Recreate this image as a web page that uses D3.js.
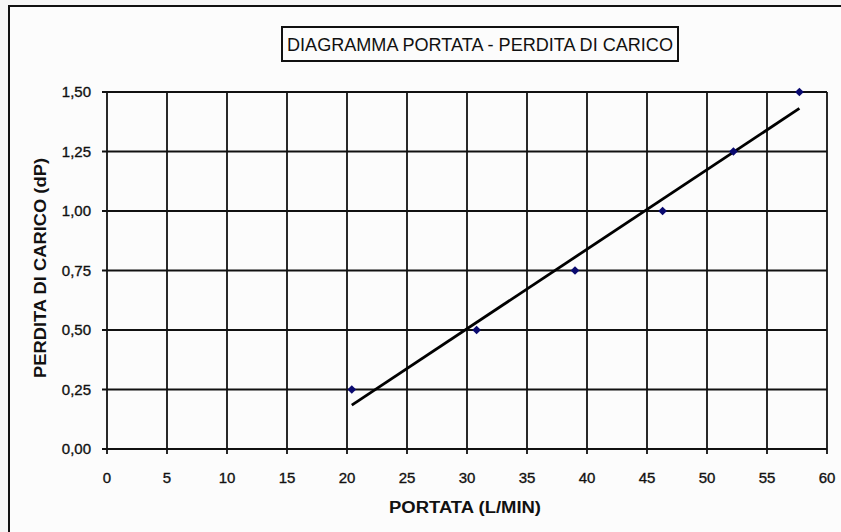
<!DOCTYPE html>
<html>
<head>
    <script src="https://d3js.org/d3.v7.min.js"></script>
    <style>
        body { margin: 0; background: #f6f6f6; }
        svg { display: block; font-family: 'Liberation Sans', Arial, sans-serif; }
        .tick-label { font-size: 15px; fill: #111; stroke: #111; stroke-width: 0.35px; }
        .axis-title { font-size: 16px; font-weight: bold; fill: #111; }
    </style>
</head>
<body>
<div id="chart"></div>
<script>
    // portata (L/min) vs perdita di carico (dP)
    const portata = [20.4, 30.8, 39.0, 46.3, 52.2, 57.7];
    const perdita = [0.25, 0.50, 0.75, 1.00, 1.25, 1.50];
    const xTicks = [0, 5, 10, 15, 20, 25, 30, 35, 40, 45, 50, 55, 60];
    const yTicks = [0, 0.25, 0.5, 0.75, 1.0, 1.25, 1.5];
    const title = "DIAGRAMMA PORTATA - PERDITA DI CARICO";

    const width = 841, height = 532;
    const plot = { left: 107, top: 92, right: 827, bottom: 449 };

    const svg = d3.select('#chart').append('svg')
        .attr('width', width).attr('height', height);

    svg.append('rect').attr('width', width).attr('height', height).attr('fill', '#f6f6f6');

    // outer chart frame (right and bottom edges run off the picture)
    svg.append('rect')
        .attr('x', 9).attr('y', 6).attr('width', 850).attr('height', 550)
        .attr('fill', '#fcfcfc').attr('stroke', '#111').attr('stroke-width', 2);

    const x = d3.scaleLinear().domain([0, 60]).range([plot.left, plot.right]);
    const y = d3.scaleLinear().domain([0, 1.5]).range([plot.bottom, plot.top]);

    const fmt = d => d3.format('.2f')(d).replace('.', ',');

    // grid
    svg.append('g').selectAll('line').data(xTicks).join('line')
        .attr('x1', d => x(d)).attr('x2', d => x(d))
        .attr('y1', plot.top).attr('y2', plot.bottom + 5)
        .attr('stroke', '#111').attr('stroke-width', 1.8);
    svg.append('g').selectAll('line').data(yTicks).join('line')
        .attr('x1', plot.left - 5).attr('x2', plot.right)
        .attr('y1', d => y(d)).attr('y2', d => y(d))
        .attr('stroke', '#111').attr('stroke-width', 1.8);

    // tick labels
    svg.append('g').selectAll('text').data(xTicks).join('text')
        .attr('class', 'tick-label')
        .attr('x', d => x(d)).attr('y', 483)
        .attr('text-anchor', 'middle')
        .text(d => d);
    svg.append('g').selectAll('text').data(yTicks).join('text')
        .attr('class', 'tick-label')
        .attr('x', 91).attr('y', d => y(d) + 5)
        .attr('text-anchor', 'end')
        .text(fmt);

    // axis titles
    svg.append('text').attr('class', 'axis-title')
        .attr('x', 465).attr('y', 513).attr('text-anchor', 'middle')
        .attr('textLength', 152).attr('lengthAdjust', 'spacingAndGlyphs')
        .text('PORTATA (L/MIN)');
    svg.append('text').attr('class', 'axis-title')
        .attr('transform', `translate(46, 268) rotate(-90)`)
        .attr('text-anchor', 'middle')
        .attr('font-size', 17)
        .attr('textLength', 220).attr('lengthAdjust', 'spacingAndGlyphs')
        .text('PERDITA DI CARICO (dP)');

    // title box
    svg.append('rect')
        .attr('x', 282).attr('y', 27).attr('width', 396).attr('height', 34)
        .attr('fill', '#fcfcfc').attr('stroke', '#111').attr('stroke-width', 2);
    svg.append('text')
        .attr('x', 480).attr('y', 51).attr('text-anchor', 'middle')
        .attr('font-size', 19).attr('fill', '#111')
        .attr('textLength', 386).attr('lengthAdjust', 'spacingAndGlyphs')
        .text(title);

    // linear trendline
    const mx = d3.mean(portata), my = d3.mean(perdita);
    const slope = d3.sum(portata, (v, i) => (v - mx) * (perdita[i] - my)) /
        d3.sum(portata, v => (v - mx) * (v - mx));
    const icpt = my - slope * mx;
    const ends = d3.extent(portata);
    svg.append('line')
        .attr('x1', x(ends[0])).attr('y1', y(icpt + slope * ends[0]))
        .attr('x2', x(ends[1])).attr('y2', y(icpt + slope * ends[1]))
        .attr('stroke', '#000').attr('stroke-width', 2.8);

    // data points (navy diamonds)
    svg.append('g').selectAll('path').data(portata).join('path')
        .attr('d', d3.symbol(d3.symbolSquare, 38))
        .attr('transform', (d, i) => `translate(${x(d)},${y(perdita[i])}) rotate(45)`)
        .attr('fill', '#0a0a70');
</script>
</body>
</html>
